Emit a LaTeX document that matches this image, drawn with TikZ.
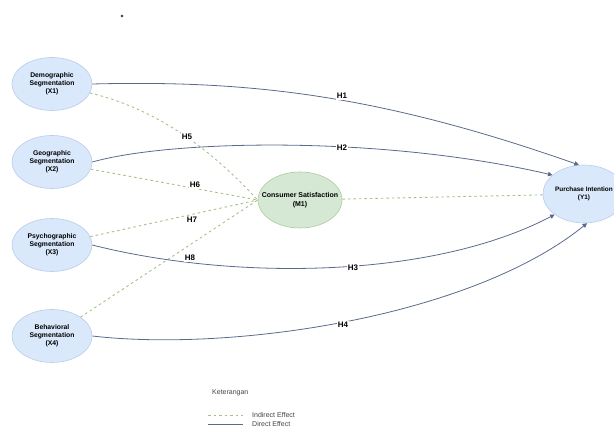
\documentclass[tikz,border=0pt]{standalone}
\usepackage{fontspec}
\setmainfont{Liberation Sans}
\usetikzlibrary{shapes.geometric,arrows.meta}
\definecolor{xfill}{HTML}{DAE8FC}
\definecolor{xdraw}{HTML}{B9CCE8}
\definecolor{mfill}{HTML}{D5E8D4}
\definecolor{mdraw}{HTML}{ADCB9E}
\definecolor{solidc}{HTML}{5B6A8C}
\definecolor{dashc}{HTML}{A3C287}
\definecolor{legtext}{HTML}{444444}
\tikzset{
  varx/.style={ellipse, fill=xfill, draw=xdraw, line width=0.6pt, minimum width=80pt, minimum height=53pt, inner sep=0pt, align=center, font=\fontsize{6.8}{8.2}\selectfont\bfseries},
  vary/.style={varx, minimum width=82pt, minimum height=58pt, inner xsep=-8pt, font=\fontsize{6.4}{8.2}\selectfont\bfseries},
  varm/.style={ellipse, fill=mfill, draw=mdraw, line width=0.6pt, minimum width=84pt, minimum height=56pt, inner ysep=0pt, inner xsep=-16pt, align=center, font=\fontsize{7}{8.6}\selectfont\bfseries},
  direct/.style={draw=solidc, line width=0.8pt, -{Triangle[width=4.5pt,length=4.5pt]}},
  indirect/.style={draw=dashc, line width=0.9pt, dash pattern=on 2.5pt off 3pt},
  hlab/.style={fill=white, inner sep=0.8pt, font=\fontsize{8}{9}\selectfont\bfseries},
  legtxt/.style={anchor=west, text=legtext, inner sep=0pt, font=\fontsize{7}{8}\selectfont}
}
\begin{document}
\begin{tikzpicture}[x=1pt,y=-1pt]
\useasboundingbox (0,0) rectangle (614,430);
\fill[black!80] (122,16) circle (1.3);

\node[varx] (x1) at (52,84)  {Demographic\\Segmentation\\(X1)};
\node[varx] (x2) at (52,162) {Geographic\\Segmentation\\(X2)};
\node[varx] (x3) at (52,245) {Psychographic\\Segmentation\\(X3)};
\node[varx] (x4) at (52,336) {Behavioral\\Segmentation\\(X4)};
\node[varm] (m) at (300,200) {Consumer Satisfaction\\(M1)};
\node[vary] (y) at (584,194) {Purchase Intention\\(Y1)};

% indirect
\draw[indirect] (x1) .. controls (170,112) and (225,165) .. (m.west);
\draw[indirect] (x2) -- (m.west);
\draw[indirect] (x3) -- (m.west);
\draw[indirect] (x4) -- (m.west);
\draw[indirect] (m) -- (y);

% direct
\draw[direct] (x1.east) .. controls (250,80) and (380,95) .. (y.100);
\draw[direct] (x2.east) .. controls (170,140) and (380,135) .. (y.149);
\draw[direct] (x3.east) .. controls (230,280) and (430,280) .. (y.215);
\draw[direct] (x4.east) .. controls (230,352) and (470,318) .. (y.276);

% labels
\node[hlab] (h1) at (342,96) {H1};
\node[hlab] (h2) at (342,148) {H2};
\node[hlab] (h3) at (353,268) {H3};
\node[hlab] (h4) at (343,325) {H4};
\node[hlab] (h5) at (187,137) {H5};
\node[hlab] (h6) at (195,185) {H6};
\node[hlab] (h7) at (192,220) {H7};
\node[hlab] (h8) at (190,258) {H8};

% legend
\node[legtxt] (ket) at (212,393) {Keterangan};
\coordinate (la) at (208,415);
\coordinate (lb) at (243,415);
\coordinate (lc) at (208,424);
\coordinate (ld) at (243,424);
\draw[indirect] (la) -- (lb);
\draw[draw=solidc, line width=0.8pt] (lc) -- (ld);
\node[legtxt] (l1) at (252,415) {Indirect Effect};
\node[legtxt] (l2) at (252,424) {Direct Effect};
\end{tikzpicture}
\end{document}
